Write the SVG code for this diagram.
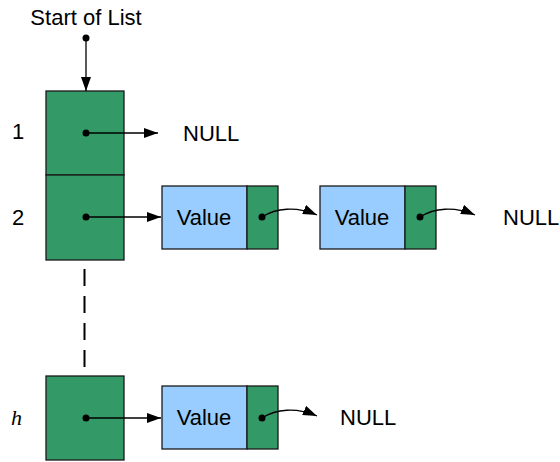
<svg xmlns="http://www.w3.org/2000/svg" width="560" height="462" viewBox="0 0 560 462">
<style>
text{font-family:"Liberation Sans",Arial,sans-serif;font-size:22px;fill:#000}
.g{fill:#339966;stroke:#1a1a1a;stroke-width:1.3}
.b{fill:#99ccff;stroke:#1a1a1a;stroke-width:1.3}
.ln{stroke:#000;stroke-width:1.3;fill:none}
.dot{fill:#000}
</style>
<defs>
<marker id="ah" markerWidth="14" markerHeight="10" refX="14" refY="5" orient="auto" markerUnits="userSpaceOnUse">
<path d="M0,0 L14,5 L0,10 Z" fill="#000"/>
</marker>
</defs>
<rect width="560" height="462" fill="#fff"/>
<g id="labels">
<text x="86" y="25" text-anchor="middle">Start of List</text>
<text x="12" y="139">1</text>
<text x="12" y="225">2</text>
<text x="11" y="425" style="font-family:'Liberation Serif',serif;font-style:italic;font-size:22px">h</text>
</g>
<g id="head1"><rect class="g" x="46" y="91" width="78" height="84"/></g>
<g id="head2"><rect class="g" x="46" y="175" width="78" height="85"/></g>
<g id="headh"><rect class="g" x="46" y="376" width="78" height="84"/></g>
<g id="node1"><rect class="b" x="162" y="186" width="85" height="63"/><rect class="g" x="247" y="186" width="31" height="63"/><text x="204" y="225" text-anchor="middle">Value</text></g>
<g id="node2"><rect class="b" x="320" y="186" width="85" height="63"/><rect class="g" x="405" y="186" width="31" height="63"/><text x="362" y="225" text-anchor="middle">Value</text></g>
<g id="node3"><rect class="b" x="162" y="386" width="85" height="63"/><rect class="g" x="247" y="386" width="31" height="63"/><text x="204" y="425" text-anchor="middle">Value</text></g>
<g id="null1"><text x="183" y="141">NULL</text></g>
<g id="null2"><text x="503" y="225">NULL</text></g>
<g id="null3"><text x="340" y="425">NULL</text></g>
<g id="connectors">
<circle class="dot" cx="86" cy="38" r="3.5"/>
<line class="ln" x1="86" y1="38" x2="86" y2="91" marker-end="url(#ah)"/>
<circle class="dot" cx="86" cy="133" r="3.5"/>
<line class="ln" x1="86" y1="133" x2="158" y2="133" marker-end="url(#ah)"/>
<circle class="dot" cx="86" cy="217" r="3.5"/>
<line class="ln" x1="86" y1="217" x2="161" y2="217" marker-end="url(#ah)"/>
<circle class="dot" cx="86" cy="418" r="3.5"/>
<line class="ln" x1="86" y1="418" x2="161" y2="418" marker-end="url(#ah)"/>
<line x1="84.5" y1="269" x2="84.5" y2="368" stroke="#000" stroke-width="2" stroke-dasharray="17,10"/>
<circle class="dot" cx="262" cy="217" r="3.5"/>
<path class="ln" d="M262,217 C276,208 296,206 317,215" marker-end="url(#ah)"/>
<circle class="dot" cx="420" cy="217" r="3.5"/>
<path class="ln" d="M420,217 C434,208 454,206 475,215" marker-end="url(#ah)"/>
<circle class="dot" cx="262" cy="418" r="3.5"/>
<path class="ln" d="M262,418 C276,409 296,407 317,416" marker-end="url(#ah)"/>
</g>
</svg>
